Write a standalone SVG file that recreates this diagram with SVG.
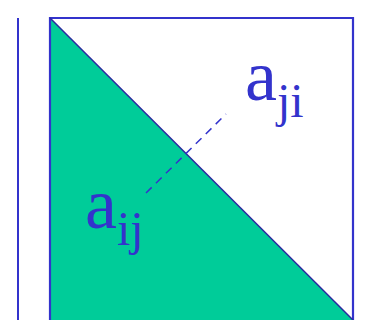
<svg xmlns="http://www.w3.org/2000/svg" width="370" height="320" viewBox="0 0 370 320">
<style>
.lbl{font-family:"Liberation Serif",serif;fill:#3333cc;font-size:72px}
.sub{font-size:48px}
</style>
<rect width="370" height="320" fill="#ffffff"/>
<g id="axis"><line x1="18" y1="18" x2="18" y2="320" stroke="#3333cc" stroke-width="2"/></g>
<g id="matrix">
<polygon points="50,18 353,320 50,320" fill="#00cc99"/>
<polyline points="50,320 50,18 353,18 353,320" fill="none" stroke="#3333cc" stroke-width="2.2"/>
<line x1="50" y1="18" x2="353" y2="320" stroke="#2a2aa0" stroke-width="1.5"/>
</g>
<g id="connectors"><line x1="146" y1="193" x2="226" y2="114" stroke="#3333cc" stroke-width="1.5" stroke-dasharray="8,6"/></g>
<g id="aij"><text class="lbl" x="85" y="228">a<tspan class="sub" dy="17">ij</tspan></text></g>
<g id="aji"><text class="lbl" x="245" y="100">a<tspan class="sub" dy="17">ji</tspan></text></g>
</svg>
